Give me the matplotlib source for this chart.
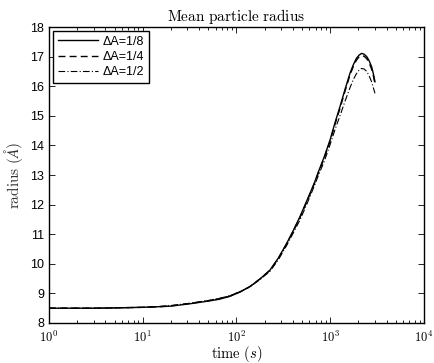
import numpy as np
import matplotlib
matplotlib.use('Agg')
import matplotlib.pyplot as plt
from matplotlib.ticker import FixedLocator, LogLocator, NullFormatter

plt.rcParams['mathtext.fontset'] = 'cm'
plt.rcParams['font.family'] = ['Liberation Sans', 'DejaVu Sans']

# time points (s)
t = [1, 3, 5, 10, 15, 20, 32, 50, 65, 85, 110, 139, 180, 228, 280, 343, 400,
     475, 540, 608, 680, 746, 860, 995, 1120, 1270, 1440, 1625, 1760, 1900,
     2030, 2165, 2300, 2450, 2600, 2760, 2880, 3000]

# mean radius for each step size
r_eighth = [8.5, 8.5, 8.51, 8.53, 8.55, 8.57, 8.65, 8.74, 8.8, 8.9, 9.05, 9.23,
            9.5, 9.79, 10.2, 10.69, 11.1, 11.59, 12.0, 12.38, 12.75, 13.1, 13.6,
            14.18, 14.75, 15.31, 15.9, 16.44, 16.72, 16.94, 17.05, 17.11, 17.08,
            17.0, 16.86, 16.66, 16.43, 16.15]
r_quarter = [8.5, 8.5, 8.51, 8.53, 8.55, 8.58, 8.66, 8.75, 8.82, 8.91, 9.06, 9.23,
             9.5, 9.78, 10.18, 10.67, 11.08, 11.56, 11.97, 12.35, 12.72, 13.07, 13.56,
             14.14, 14.7, 15.25, 15.84, 16.38, 16.66, 16.88, 16.99, 17.04, 17.01,
             16.93, 16.79, 16.58, 16.36, 16.08]
r_half = [8.5, 8.5, 8.51, 8.53, 8.56, 8.59, 8.67, 8.76, 8.83, 8.92, 9.07, 9.22,
          9.48, 9.75, 10.14, 10.62, 11.02, 11.48, 11.88, 12.27, 12.65, 12.98, 13.45,
          14.02, 14.52, 15.0, 15.5, 15.95, 16.22, 16.42, 16.55, 16.6, 16.58,
          16.5, 16.35, 16.15, 15.95, 15.76]

labels = ['\u0394A=1/8', '\u0394A=1/4', '\u0394A=1/2']

fig = plt.figure(figsize=(4.35, 3.63), dpi=100)
ax = fig.add_axes([0.1126, 0.1102, 0.8621, 0.8154])

ax.plot(t, r_eighth, color='black', linestyle='-', linewidth=1.0, label=labels[0])
ax.plot(t, r_quarter, color='black', linestyle=(0, (5, 3)), linewidth=1.0, label=labels[1])
ax.plot(t, r_half, color='black', linestyle=(0, (6, 2, 1, 2)), linewidth=0.8, label=labels[2])

ax.set_xscale('log')
ax.set_xlim(1, 1e4)
ax.set_ylim(8, 18)
ax.set_yticks(range(8, 19))
ax.xaxis.set_major_locator(FixedLocator([1, 10, 100, 1000, 10000]))
ax.set_xticklabels([r'$\mathsf{10^{%d}}$' % k for k in range(5)])
ax.xaxis.set_minor_locator(LogLocator(base=10, subs=np.arange(2, 10), numticks=20))
ax.xaxis.set_minor_formatter(NullFormatter())

ax.tick_params(which='both', direction='in', top=True, right=True, labelsize=9, width=0.6)
ax.tick_params(which='major', length=4)
ax.tick_params(which='minor', length=2)
ax.tick_params(axis='x', pad=5)
for s in ax.spines.values():
    s.set_linewidth(1.0)

ax.set_title(r'$\mathrm{Mean\ particle\ radius}$', fontsize=11, pad=4)
ax.set_xlabel(r'$\mathrm{time}\ (s)$', fontsize=10.5, labelpad=-1)
ax.set_ylabel(r'$\mathrm{radius}\ (\AA)$', fontsize=11, labelpad=4, color='#333333')

leg = ax.legend(loc='upper left', fontsize=9, fancybox=False, edgecolor='black',
                framealpha=1, borderaxespad=0.3, handlelength=3.2, labelspacing=0.25,
                borderpad=0.4, handletextpad=0.4)
leg.get_frame().set_linewidth(1.0)

fig.savefig('out.png', dpi=100)
